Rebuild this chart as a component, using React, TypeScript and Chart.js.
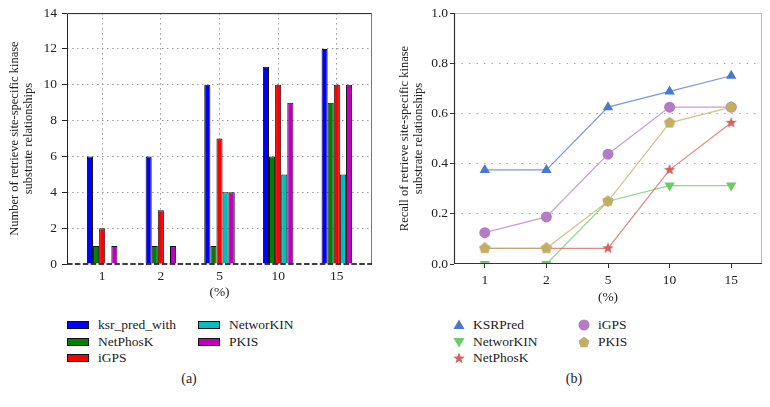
import React, { useEffect, useRef } from "react";
import { Chart, registerables } from "chart.js";

Chart.register(...registerables);

// ---------- data ----------
const percentLabels = ["1", "2", "5", "10", "15"];

const barSeriesNames = ["ksr_pred_with", "NetPhosK", "iGPS", "NetworKIN", "PKIS"];
const ksrPredWithCounts = [6, 6, 10, 11, 12];
const netPhosKCounts = [1, 1, 1, 6, 9];
const iGPSCounts = [2, 3, 7, 10, 10];
const networKINCounts = [0, 0, 4, 5, 5];
const pkisCounts = [1, 1, 4, 9, 10];

const lineSeriesNames = ["KSRPred", "NetworKIN", "NetPhosK", "iGPS", "PKIS"];
const ksrPredRecall = [0.375, 0.375, 0.625, 0.6875, 0.75];
const networKINRecall = [0, 0, 0.25, 0.3125, 0.3125];
const netPhosKRecall = [0.0625, 0.0625, 0.0625, 0.375, 0.5625];
const iGPSRecall = [0.125, 0.1875, 0.4375, 0.625, 0.625];
const pkisRecall = [0.0625, 0.0625, 0.25, 0.5625, 0.625];

const leftYTitle = ["Number of retrieve site-specific kinase", "substrate relationships"];
const rightYTitle = ["Recall of retrieve site-specific kinase", "substrate relationships"];
const xTitle = "(%)";

// ---------- styles ----------
const FONT = "'Liberation Serif', 'Times New Roman', serif";
const TEXT = "#222";
const barColors = ["#0000FF", "#007F00", "#FF0000", "#00BFBF", "#BF00BF"];
const lineColors = ["#4878CF", "#6ACC65", "#D65F5F", "#B47CC7", "#C4AD66"];

function hexA(hex: string, a: number) {
  const n = parseInt(hex.slice(1), 16);
  return `rgba(${(n >> 16) & 255},${(n >> 8) & 255},${n & 255},${a})`;
}

function polyCanvas(color: string, pts: number, R: number, r: number | null) {
  const size = Math.ceil(R * 2) + 2;
  const c = document.createElement("canvas");
  c.width = size;
  c.height = size;
  const g = c.getContext("2d")!;
  const cx = size / 2, cy = size / 2;
  const n = r === null ? pts : pts * 2;
  g.beginPath();
  for (let k = 0; k < n; k++) {
    const rad = r === null ? R : k % 2 === 0 ? R : r;
    const a = -Math.PI / 2 + (k * 2 * Math.PI) / n;
    const px = cx + rad * Math.cos(a), py = cy + rad * Math.sin(a);
    if (k === 0) g.moveTo(px, py);
    else g.lineTo(px, py);
  }
  g.closePath();
  g.fillStyle = color;
  g.fill();
  return c;
}

const leftFrame = {
  id: "leftFrame",
  afterDraw(chart: any) {
    const { ctx, chartArea: a } = chart;
    ctx.save();
    ctx.lineWidth = 1;
    ctx.strokeStyle = "#222";
    ctx.beginPath();
    ctx.moveTo(a.left + 0.5, a.bottom);
    ctx.lineTo(a.left + 0.5, a.top + 0.5);
    ctx.lineTo(a.right, a.top + 0.5);
    ctx.stroke();
    ctx.strokeStyle = "#777";
    ctx.beginPath();
    ctx.moveTo(a.right - 0.5, a.top);
    ctx.lineTo(a.right - 0.5, a.bottom);
    ctx.stroke();
    ctx.strokeStyle = "#000";
    ctx.lineWidth = 1.5;
    ctx.setLineDash([5.5, 2.4]);
    ctx.beginPath();
    ctx.moveTo(a.left, a.bottom);
    ctx.lineTo(a.right, a.bottom);
    ctx.stroke();
    ctx.restore();
  },
};

const rightFrame = {
  id: "rightFrame",
  afterDraw(chart: any) {
    const { ctx, chartArea: a } = chart;
    ctx.save();
    ctx.lineWidth = 1;
    ctx.strokeStyle = "#bbb";
    ctx.beginPath();
    ctx.moveTo(a.left, a.top + 0.5);
    ctx.lineTo(a.right - 0.5, a.top + 0.5);
    ctx.lineTo(a.right - 0.5, a.bottom);
    ctx.stroke();
    ctx.strokeStyle = "#333";
    ctx.lineWidth = 1.2;
    ctx.beginPath();
    ctx.moveTo(a.left + 0.5, a.top);
    ctx.lineTo(a.left + 0.5, a.bottom - 0.5);
    ctx.lineTo(a.right, a.bottom - 0.5);
    ctx.stroke();
    ctx.restore();
  },
};

const tickFont = { family: FONT, size: 13.5 };
const titleFont = { family: FONT, size: 12.5, lineHeight: 1.12 };

export default function App() {
  const leftRef = useRef<HTMLCanvasElement>(null);
  const rightRef = useRef<HTMLCanvasElement>(null);

  useEffect(() => {
    const barValues = [ksrPredWithCounts, netPhosKCounts, iGPSCounts, networKINCounts, pkisCounts];
    const left = new Chart(leftRef.current!, {
      type: "bar",
      data: {
        datasets: barSeriesNames.map((name, s) => ({
          label: name,
          data: barValues[s].map((v, i) => ({ x: i, y: v })),
          backgroundColor: barColors[s],
          borderColor: "#111",
          borderWidth: 1,
          categoryPercentage: 0.52,
          barPercentage: 1,
        })),
      },
      options: {
        animation: false,
        responsive: false,
        layout: { padding: { left: 0, top: 13, right: 13, bottom: 0 } },
        plugins: { legend: { display: false }, tooltip: { enabled: false } },
        scales: {
          x: {
            type: "linear",
            min: -0.6,
            max: 4.6,
            offset: false,
            afterBuildTicks: (s: any) => {
              s.ticks = percentLabels.map((_, i) => ({ value: i }));
            },
            afterFit: (s: any) => {
              s.height = 46;
            },
            grid: { offset: false, color: "#999", lineWidth: 1, drawTicks: false },
            border: { display: false, dash: [1.5, 3.5] },
            ticks: {
              autoSkip: false,
              maxRotation: 0,
              padding: 4,
              color: TEXT,
              font: tickFont,
              callback: (v: any) => percentLabels[Math.round(v)] ?? "",
            },
            title: { display: true, text: xTitle, color: TEXT, font: tickFont, padding: { top: 0, bottom: 9 } },
          },
          y: {
            min: 0,
            max: 14,
            afterFit: (s: any) => {
              s.width = 67;
            },
            grid: {
              color: (c: any) => (c.tick && (c.tick.value === 0 || c.tick.value === 14) ? "rgba(0,0,0,0)" : "#999"),
              drawTicks: true,
              tickLength: 5,
              tickColor: "#222",
              tickBorderDash: [],
            },
            border: { display: false, dash: [1.5, 3.5] },
            ticks: { stepSize: 2, padding: 5, color: TEXT, font: tickFont },
            title: { display: true, text: leftYTitle, color: TEXT, font: titleFont, padding: { top: 8, bottom: 0 } },
          },
        },
      } as any,
      plugins: [leftFrame],
    });

    const lineValues = [ksrPredRecall, networKINRecall, netPhosKRecall, iGPSRecall, pkisRecall];
    const pointStyles: any[] = [
      "triangle",
      "triangle",
      polyCanvas(lineColors[2], 5, 6, 2.5),
      "circle",
      polyCanvas(lineColors[4], 5, 6, null),
    ];
    const radii = [6, 6, 6, 5.5, 6];
    const rotations = [0, 180, 0, 0, 0];
    const right = new Chart(rightRef.current!, {
      type: "line",
      data: {
        labels: percentLabels,
        datasets: lineSeriesNames.map((name, s) => ({
          label: name,
          data: lineValues[s],
          borderColor: hexA(lineColors[s], 0.75),
          backgroundColor: lineColors[s],
          borderWidth: 1.2,
          pointStyle: pointStyles[s],
          pointRadius: radii[s],
          pointRotation: rotations[s],
          pointBorderWidth: 0,
          pointBackgroundColor: lineColors[s],
          pointBorderColor: lineColors[s],
          tension: 0,
          fill: false,
          clip: 0,
          order: lineSeriesNames.length - s,
        })),
      },
      options: {
        animation: false,
        responsive: false,
        layout: { padding: { left: 0, top: 13, right: 8, bottom: 0 } },
        plugins: { legend: { display: false }, tooltip: { enabled: false } },
        scales: {
          x: {
            type: "category",
            offset: true,
            afterFit: (s: any) => {
              s.height = 46;
            },
            grid: {
              display: true,
              drawOnChartArea: false,
              drawTicks: true,
              tickLength: 4,
              tickColor: "#333",
              offset: false,
            },
            border: { display: false },
            ticks: { padding: 4, color: TEXT, font: tickFont, maxRotation: 0 },
            title: { display: true, text: xTitle, color: TEXT, font: tickFont, padding: { top: 0, bottom: 4 } },
          },
          y: {
            min: 0,
            max: 1,
            afterFit: (s: any) => {
              s.width = 64;
            },
            grid: {
              color: (c: any) => (c.tick && (c.tick.value <= 0.001 || c.tick.value >= 0.999) ? "rgba(0,0,0,0)" : "#aaa"),
              drawTicks: true,
              tickLength: 4,
              tickColor: "#333",
              tickBorderDash: [],
            },
            border: { display: false, dash: [1.5, 6] },
            ticks: {
              stepSize: 0.2,
              padding: 2,
              color: TEXT,
              font: tickFont,
              callback: (v: any) => Number(v).toFixed(1),
            },
            title: { display: true, text: rightYTitle, color: TEXT, font: titleFont, padding: { top: 8, bottom: 0 } },
          },
        },
      } as any,
      plugins: [rightFrame],
    });

    return () => {
      left.destroy();
      right.destroy();
    };
  }, []);

  const textStyle: React.CSSProperties = {
    position: "absolute",
    fontFamily: FONT,
    fontSize: 13.5,
    lineHeight: "16px",
    color: TEXT,
    whiteSpace: "nowrap",
  };

  // legend layout (column-major, two columns)
  const barLegendCols = [67, 198];
  const lineLegendCols = [459, 584];
  const legendRows = [325, 341.5, 358];

  const markerSvg = (s: number) => {
    const c = lineColors[s];
    if (s === 0) return <polygon points="7,1.5 12.5,11 1.5,11" fill={c} />;
    if (s === 1) return <polygon points="1.5,3 12.5,3 7,12.5" fill={c} />;
    if (s === 3) return <circle cx="7" cy="7" r="5.5" fill={c} />;
    const star = s === 2;
    const n = star ? 10 : 5;
    const pts: string[] = [];
    for (let k = 0; k < n; k++) {
      const rad = star ? (k % 2 === 0 ? 6 : 2.5) : 5.8;
      const a = -Math.PI / 2 + (k * 2 * Math.PI) / n;
      pts.push(`${(7 + rad * Math.cos(a)).toFixed(2)},${(7.5 + rad * Math.sin(a)).toFixed(2)}`);
    }
    return <polygon points={pts.join(" ")} fill={c} />;
  };

  return (
    <div
      style={{
        position: "absolute",
        left: 0,
        top: 0,
        width: 770,
        height: 407,
        background: "#fff",
        overflow: "hidden",
      }}
    >
      <canvas ref={leftRef} width={385} height={310} style={{ position: "absolute", left: 0, top: 0, width: 385, height: 310 }} />
      <canvas ref={rightRef} width={380} height={310} style={{ position: "absolute", left: 390, top: 0, width: 380, height: 310 }} />

      {barSeriesNames.map((name, s) => {
        const col = s < 3 ? 0 : 1;
        const row = s < 3 ? s : s - 3;
        const x = barLegendCols[col];
        const y = legendRows[row];
        return (
          <React.Fragment key={name}>
            <div
              style={{
                position: "absolute",
                left: x,
                top: y - 4,
                width: 20,
                height: 6,
                background: barColors[s],
                border: "1px solid #111",
              }}
            />
            <div style={{ ...textStyle, left: x + 31, top: y - 8 }}>{name}</div>
          </React.Fragment>
        );
      })}

      {lineSeriesNames.map((name, s) => {
        const col = s < 3 ? 0 : 1;
        const row = s < 3 ? s : s - 3;
        const x = lineLegendCols[col];
        const y = legendRows[row];
        return (
          <React.Fragment key={name}>
            <svg width={14} height={14} style={{ position: "absolute", left: x - 7, top: y - 7 }}>
              {markerSvg(s)}
            </svg>
            <div style={{ ...textStyle, left: x + 14, top: y - 8 }}>{name}</div>
          </React.Fragment>
        );
      })}

      <div style={{ ...textStyle, fontSize: 14, left: 179, top: 371, width: 20, textAlign: "center" }}>(a)</div>
      <div style={{ ...textStyle, fontSize: 14, left: 564, top: 371, width: 20, textAlign: "center" }}>(b)</div>
    </div>
  );
}
